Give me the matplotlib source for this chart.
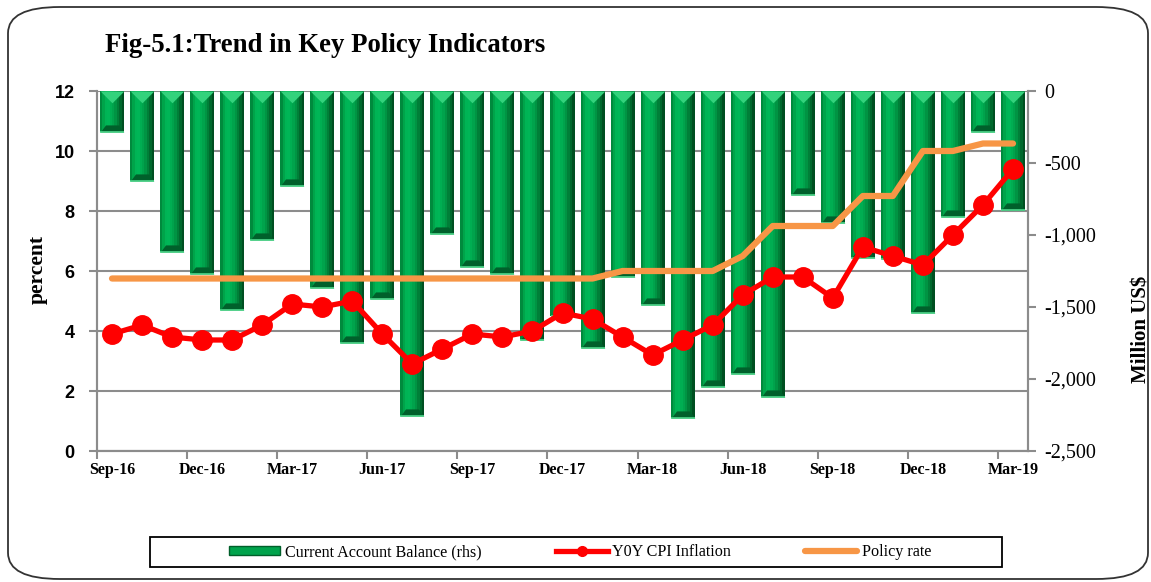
import numpy as np
import matplotlib
matplotlib.use('Agg')
import matplotlib.pyplot as plt
from matplotlib.patches import FancyBboxPatch, Rectangle
from matplotlib.path import Path
from matplotlib.lines import Line2D

months = ['Sep-16', 'Oct-16', 'Nov-16', 'Dec-16', 'Jan-17', 'Feb-17', 'Mar-17',
          'Apr-17', 'May-17', 'Jun-17', 'Jul-17', 'Aug-17', 'Sep-17', 'Oct-17',
          'Nov-17', 'Dec-17', 'Jan-18', 'Feb-18', 'Mar-18', 'Apr-18', 'May-18',
          'Jun-18', 'Jul-18', 'Aug-18', 'Sep-18', 'Oct-18', 'Nov-18', 'Dec-18',
          'Jan-19', 'Feb-19', 'Mar-19']

# Current account balance, million US$ (right axis)
cab = [-283, -623, -1116, -1273, -1521, -1035, -660, -1370, -1752, -1444,
       -2257, -993, -1224, -1273, -1729, -1560, -1782, -1289, -1486, -2269,
       -2058, -1968, -2123, -722, -919, -1157, -1165, -1544, -873, -283, -826]

# Y0Y CPI inflation, percent
cpi = [3.9, 4.2, 3.8, 3.7, 3.7, 4.2, 4.9, 4.8, 5.0, 3.9, 2.9, 3.4, 3.9, 3.8,
       4.0, 4.6, 4.4, 3.8, 3.2, 3.7, 4.2, 5.2, 5.8, 5.8, 5.1, 6.8, 6.5, 6.2,
       7.2, 8.2, 9.4]

# Policy rate, percent
policy = [5.75, 5.75, 5.75, 5.75, 5.75, 5.75, 5.75, 5.75, 5.75, 5.75, 5.75,
          5.75, 5.75, 5.75, 5.75, 5.75, 5.75, 6.0, 6.0, 6.0, 6.0, 6.5, 7.5,
          7.5, 7.5, 8.5, 8.5, 10.0, 10.0, 10.25, 10.25]

serif = 'Liberation Serif'
grey = '#8c8c8c'

W, H = 1151, 582
fig = plt.figure(figsize=(W / 100, H / 100), dpi=100)
fig.patch.set_facecolor('white')

# rounded chart frame
fig.patches.append(FancyBboxPatch((8 / W, 3 / H), 1140 / W, 572 / H,
                                  boxstyle='round,pad=0,rounding_size=0.045',
                                  transform=fig.transFigure, fill=False,
                                  edgecolor='#333333', linewidth=1.3))

ax2 = fig.add_axes([97 / W, 1 - 451 / H, 931 / W, 360 / H])
ax = ax2.twinx()
ax.set_zorder(ax2.get_zorder() + 1)
ax.patch.set_visible(False)

x = np.arange(len(months))
bw = 0.8

# gridlines of the percent axis, drawn behind the bars
grid_y = np.arange(0, 13, 2)
ax2.hlines(grid_y, 0, 1, transform=ax.get_yaxis_transform(), color=grey,
           lw=1.5, zorder=0.5)

# bevelled green bars: vertical strips for shading
strip_cols = ['#008a3d', '#00a44a', '#00b455', '#00b657', '#00ae52',
              '#00a34c', '#009443', '#007f38', '#00692d', '#004f21']
ns = len(strip_cols)
sw = bw / ns
for k, c in enumerate(strip_cols):
    ax2.bar(x - bw / 2 + sw * (k + 0.5), cab, sw, color=c, linewidth=0,
            zorder=2)
# top bevel
tri_down = Path([(-1, 0), (1, 0), (0, -1), (-1, 0)])
ax2.plot(x, np.zeros(len(x)), linestyle='none', marker=tri_down,
         markersize=17, color='#33d27c', markeredgewidth=0, zorder=3,
         clip_on=False)
# bottom bevel
tri_up = Path([(-1, 0), (1, 0), (0.55, 0.6), (-0.55, 0.6), (-1, 0)])
ax2.plot(x, cab, linestyle='none', marker=tri_up, markersize=17,
         color='#00602b', markeredgewidth=0, zorder=3)
ax2.plot(x, cab, linestyle='none', marker='_', markersize=17,
         color='#4fd88c', markeredgewidth=1.2, zorder=3)

ax2.set_ylim(-2500, 0)
ax2.set_xlim(-0.5, len(months) - 0.5)
ax2.yaxis.tick_right()
ax2.yaxis.set_label_position('right')
ax2.set_yticks(np.arange(-2500, 1, 500))
ax2.set_yticklabels(['{:,.0f}'.format(v) for v in np.arange(-2500, 1, 500)],
                    fontfamily=serif, fontsize=14.5)
ax2.tick_params(axis='y', direction='out', length=6, width=1.5, color=grey,
                pad=6)

# lines on the percent axis
ax.plot(x, policy, color='#f79646', lw=4.5, solid_capstyle='round', zorder=4)
ax.plot(x, cpi, color='#ff0000', lw=3.8, marker='o', markersize=14, zorder=5)
ax.set_ylim(0, 12)
ax.yaxis.tick_left()
ax.set_yticks(np.arange(0, 13, 2))
ax.set_yticklabels([str(v) for v in range(0, 13, 2)],
                   fontfamily='Liberation Sans', fontweight='bold', fontsize=13)
ax.tick_params(axis='y', direction='out', length=6, width=1.5, color=grey,
               pad=10)

# x axis: labels every quarter, tick marks between categories
lab_idx = list(range(0, len(months), 3))
ax2.set_xticks(lab_idx)
ax2.set_xticklabels([months[i] for i in lab_idx], fontfamily=serif,
                    fontweight='bold', fontsize=11.5)
ax2.set_xticks([i - 0.5 for i in lab_idx], minor=True)
ax2.tick_params(axis='x', which='major', length=0, pad=8)
ax2.tick_params(axis='x', which='minor', direction='out', length=6, width=1.5,
                color=grey)
ax.tick_params(axis='x', length=0)

for a in (ax, ax2):
    for s in a.spines.values():
        s.set_color(grey)
        s.set_linewidth(1.5)
    a.spines['top'].set_visible(False)

fig.text(105 / W, 1 - 45 / H, 'Fig-5.1:Trend in Key Policy Indicators',
         fontfamily=serif, fontweight='bold', fontsize=19.3, va='center',
         ha='left')
fig.text(38 / W, 1 - 270 / H, 'percent', fontfamily=serif, fontweight='bold',
         fontsize=15.5, rotation=90, va='center', ha='center')
fig.text(1141 / W, 1 - 329 / H, 'Million US$', fontfamily=serif,
         fontweight='bold', fontsize=15, rotation=90, va='center',
         ha='center')

# legend
fig.patches.append(Rectangle((150 / W, 1 - 567 / H), 852 / W, 30 / H,
                             transform=fig.transFigure, fill=False,
                             edgecolor='black', linewidth=1.3))
handles = [Rectangle((0, 0), 1, 1, facecolor='#00a34c', edgecolor='#005f2a'),
           Line2D([], [], color='#ff0000', lw=3.8, marker='o', markersize=7),
           Line2D([], [], color='#f79646', lw=4.5, solid_capstyle='round')]
labels = ['Current Account Balance (rhs)', 'Y0Y CPI Inflation', 'Policy rate']
fig.legend(handles, labels, loc='center', bbox_to_anchor=(580 / W, 1 - 552 / H),
           ncol=3, frameon=False, handlelength=3.2, handleheight=0.5,
           handletextpad=0.3, columnspacing=4.6,
           prop={'family': serif, 'size': 11.6})

fig.savefig('out.png', dpi=100)
